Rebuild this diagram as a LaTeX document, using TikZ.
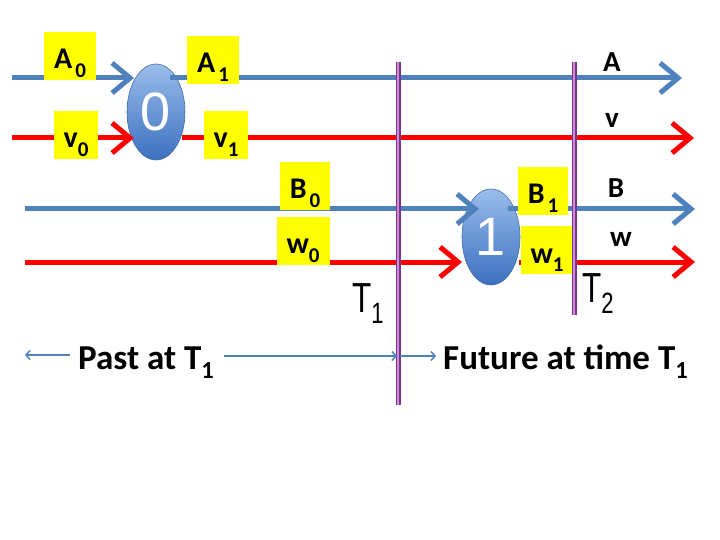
\documentclass[tikz,border=0pt]{standalone}
\usepackage{fontspec}
\setmainfont{Carlito}
\newfontfamily\arialfont{Liberation Sans}
\usetikzlibrary{arrows.meta, shapes.geometric}

\definecolor{lineblue}{HTML}{4F81BD}
\definecolor{linered}{HTML}{FF0000}
\definecolor{boxyellow}{HTML}{FFFF00}
\definecolor{gatetop}{HTML}{9ABDEB}
\definecolor{gatebottom}{HTML}{3B70C0}
\definecolor{timepurple}{HTML}{74368F}
\definecolor{timepink}{HTML}{D38BD6}

\newcommand{\lowsub}[1]{\raisebox{-0.28em}{\scalebox{0.7}{#1}}}

\tikzstyle{gate} = [ellipse, minimum width=58pt, minimum height=96pt, inner sep=0pt, draw=lineblue!85!black, line width=0.6pt, top color=gatetop, bottom color=gatebottom, text=white, font=\arialfont\fontsize{54}{54}\selectfont]
\tikzstyle{tagbox} = [rectangle, fill=boxyellow, minimum height=48pt, inner xsep=10pt, inner ysep=0pt, text height=28pt, text depth=2pt, font=\bfseries\fontsize{30}{30}\selectfont]
\tikzstyle{streamname} = [anchor=base, font=\bfseries\fontsize{29}{29}\selectfont]
\tikzstyle{timename} = [anchor=base west, inner sep=0pt, xscale=0.75, font=\arialfont\fontsize{42}{42}\selectfont]
\tikzstyle{caption} = [anchor=base west, inner sep=0pt, font=\bfseries\fontsize{35}{35}\selectfont]
\tikzstyle{blueline} = [draw=lineblue, line width=5pt]
\tikzstyle{redline} = [draw=linered, line width=5pt]
\tikzstyle{bluearrow} = [blueline, -{Straight Barb[length=18pt, width=30pt]}]
\tikzstyle{redarrow} = [redline, -{Straight Barb[length=18pt, width=30pt]}]
\tikzstyle{timeline} = [draw=timepurple, double=timepink, line width=1.3pt, double distance=2.4pt]
\tikzstyle{thinarrow} = [draw=lineblue, line width=1.5pt, -{Straight Barb[length=4pt, width=9pt]}]

\begin{document}
\begin{tikzpicture}[x=1pt, y=-1pt]
\useasboundingbox (0,0) rectangle (720,540);

% Gates
\node (gate0) [gate] at (156,112) {0};
\node (gate1) [gate] at (491,237) {1};

% Stream end points
\coordinate (Astart) at (12,78);
\coordinate (Ain) at (134,78);
\coordinate (Aout) at (170,78);
\coordinate (Aend) at (682,78);
\coordinate (vstart) at (12,138);
\coordinate (vin) at (134,138);
\coordinate (vout) at (182,138);
\coordinate (vend) at (694,138);
\coordinate (Bstart) at (25,209);
\coordinate (Bin) at (479,209);
\coordinate (Bout) at (508,209);
\coordinate (Bend) at (695,209);
\coordinate (wstart) at (25,262);
\coordinate (win) at (462,262);
\coordinate (wout) at (519,262);
\coordinate (wend) at (695,262);

% Streams
\draw [bluearrow] (Astart) -- (Ain);
\draw [bluearrow] (Aout) -- (Aend);
\draw [redarrow] (vstart) -- (vin);
\draw [redarrow] (vout) -- (vend);
\draw [bluearrow] (Bstart) -- (Bin);
\draw [bluearrow] (Bout) -- (Bend);
\draw [redarrow] (wstart) -- (win);
\draw [redarrow] (wout) -- (wend);

% Yellow tags
\node (A0) [tagbox] at (70,56) {A\kern3pt\lowsub{0}};
\node (A1) [tagbox] at (213,60) {A\kern3pt\lowsub{1}};
\node (v0) [tagbox] at (76,135) {v\lowsub{0}};
\node (v1) [tagbox] at (226,135) {v\lowsub{1}};
\node (B0) [tagbox] at (305,186) {B\kern3pt\lowsub{0}};
\node (w0) [tagbox] at (303,241) {w\lowsub{0}};
\node (B1) [tagbox] at (543,191) {B\kern3pt\lowsub{1}};
\node (w1) [tagbox] at (547,250) {w\lowsub{1}};

% Stream names
\node (Aname) [streamname] at (612,72) {A};
\node (vname) [streamname] at (612,128) {v};
\node (Bname) [streamname] at (616,197) {B};
\node (wname) [streamname] at (621,247) {w};

% Time lines
\coordinate (T1top) at (398,62);
\coordinate (T1bot) at (398,405);
\coordinate (T2top) at (574,62);
\coordinate (T2bot) at (574,315);
\draw [timeline] (T1top) -- (T1bot);
\draw [timeline] (T2top) -- (T2bot);
\node (T1) [timename] at (352,312) {T\lowsub{1}};
\node (T2) [timename] at (582,302) {T\lowsub{2}};

% Past and future
\node (past) [caption] at (78,369) {Past at T\lowsub{1}};
\node (future) [caption] at (443,369) {Future at time T\lowsub{1}};
\coordinate (pastL) at (25,355);
\coordinate (pastR) at (70,355);
\coordinate (midL) at (224,356);
\coordinate (midR) at (397,356);
\coordinate (futL) at (400,356);
\coordinate (futR) at (436,356);
\draw [thinarrow] (pastR) -- (pastL);
\draw [thinarrow] (midL) -- (midR);
\draw [thinarrow] (futL) -- (futR);

\end{tikzpicture}
\end{document}
